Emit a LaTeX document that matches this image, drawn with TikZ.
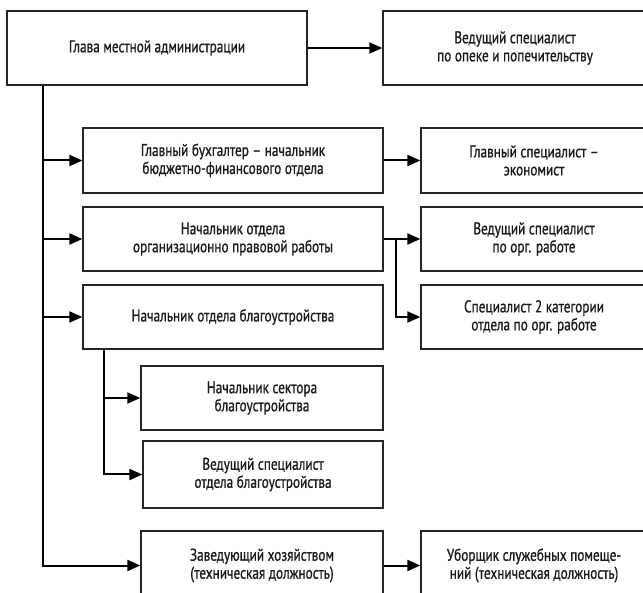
\documentclass[tikz,border=0pt]{standalone}
\usepackage{fontspec}
\setmainfont{PT Sans}[FakeStretch=0.78,FakeBold=0.8]
\usepackage{tikz}
\usetikzlibrary{arrows.meta}
\tikzset{
	post/.style={draw=black!85, line width=1.3pt, fill=white, align=center, inner sep=0pt,
		font=\fontsize{17}{18}\selectfont, text=black!90},
	conn/.style={black, line width=2pt},
	arr/.style={conn, -{Triangle[length=13pt,width=11pt]}}
}
\begin{document}
\begin{tikzpicture}[x=1pt,y=-1pt]
						\useasboundingbox (0,0) rectangle (643,593);
						\clip (0,0) rectangle (643,593);
						\node[post, minimum width=300pt, minimum height=74pt] (glava) at (157,48) {Глава местной администрации};
						\node[post, minimum width=264pt, minimum height=74pt] (opeka) at (515,48) {Ведущий специалист\\по опеке и попечительству};
						\node[post, minimum width=300pt, minimum height=65pt] (buh) at (233,160.5) {Главный бухгалтер -- начальник\\бюджетно-финансового отдела};
						\node[post, minimum width=226pt, minimum height=65pt] (econ) at (534,160.5) {Главный специалист --\\экономист};
						\node[post, minimum width=300pt, minimum height=64pt] (org) at (233,239) {Начальник отдела\\организационно правовой работы};
						\node[post, minimum width=226pt, minimum height=64pt] (vedorg) at (534,239) {Ведущий специалист\\по орг. работе};
						\node[post, minimum width=300pt, minimum height=64pt] (blag) at (233,317) {Начальник отдела благоустройства};
						\node[post, minimum width=226pt, minimum height=64pt] (spectwo) at (534,317) {Специалист 2 категории\\отдела по орг. работе};
						\node[post, minimum width=242pt, minimum height=64pt] (sektor) at (262,398) {Начальник сектора\\благоустройства};
						\node[post, minimum width=240pt, minimum height=67pt] (vedblag) at (263,474.5) {Ведущий специалист\\отдела благоустройства};
						\node[post, minimum width=242pt, minimum height=69pt] (zav) at (262,565.5) {Заведующий хозяйством\\(техническая должность)};
						\node[post, minimum width=226pt, minimum height=69pt] (uborsh) at (534,565.5) {Уборщик служебных помеще-\\ний (техническая должность)};
						\coordinate (trunk) at ([xshift=37pt]glava.south west);
						\coordinate (subtrunk) at ([xshift=22pt]blag.south west);
						\coordinate (fork) at ([xshift=12pt]org.east);
						\draw[arr] (glava.east)--(opeka.west);
						\draw[arr] (trunk) |- (zav.west);
						\draw[arr] (trunk |- buh.west)--(buh.west);
						\draw[arr] (trunk |- org.west)--(org.west);
						\draw[arr] (trunk |- blag.west)--(blag.west);
						\draw[arr] (buh.east)--(econ.west);
						\draw[arr] (org.east)--(vedorg.west);
						\draw[arr] (fork) |- (spectwo.west);
						\draw[arr] (subtrunk) |- (vedblag.west);
						\draw[arr] (subtrunk |- sektor.west)--(sektor.west);
						\draw[arr] (zav.east)--(uborsh.west);
					\end{tikzpicture}
\end{document}
